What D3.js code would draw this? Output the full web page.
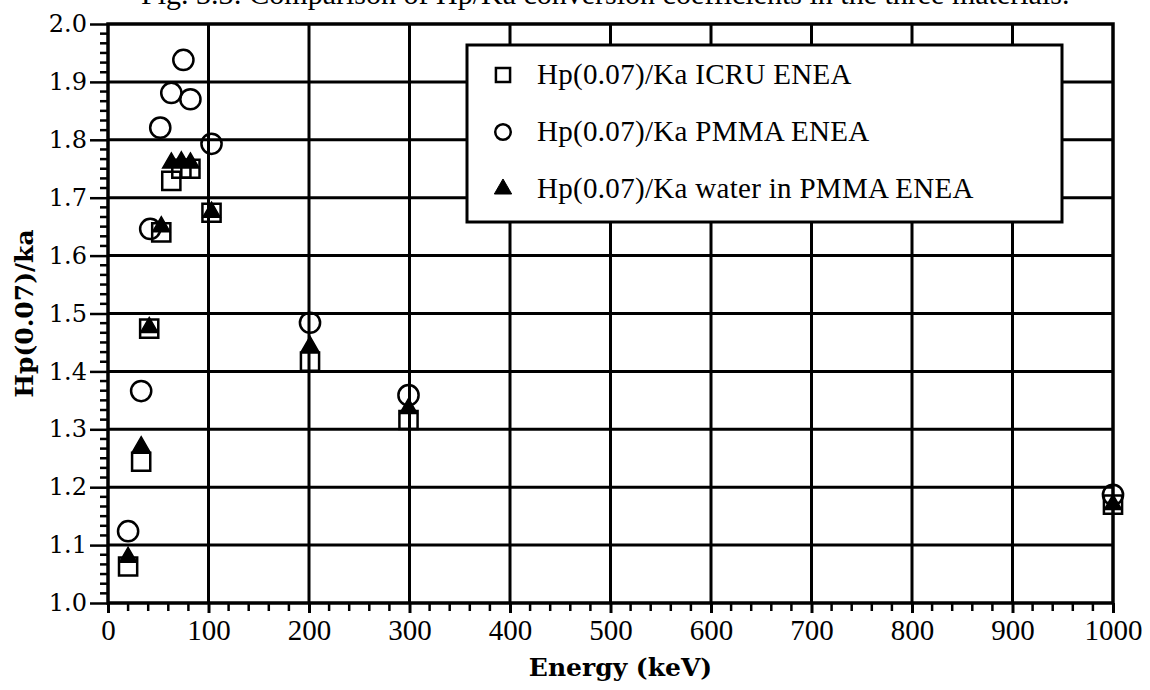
<!DOCTYPE html>
<html>
<head>
<meta charset="utf-8">
<script src="https://cdn.jsdelivr.net/npm/d3@7"></script>
<style>
  html, body { margin: 0; padding: 0; background: #fff; }
  svg { display: block; }
</style>
</head>
<body>
<svg id="chart" width="1150" height="690"></svg>
<script>
// Photon energies (keV) and Hp(0.07)/Ka conversion coefficients
const energyICRU  = [20, 33, 41, 53, 63, 73, 82, 103, 201, 299, 1000];
const valuesICRU  = [1.063, 1.244, 1.474, 1.640, 1.729, 1.750, 1.750, 1.674, 1.417, 1.316, 1.170];

const energyPMMA  = [20, 33, 42, 52, 63, 75, 82, 103, 201, 299, 1000];
const valuesPMMA  = [1.124, 1.366, 1.646, 1.821, 1.881, 1.938, 1.870, 1.793, 1.484, 1.359, 1.187];

const energyWater = [20, 33, 41, 53, 63, 73, 82, 103, 201, 299, 1000];
const valuesWater = [1.079, 1.270, 1.476, 1.650, 1.760, 1.762, 1.760, 1.675, 1.443, 1.336, 1.170];

const seriesNames = [
  "Hp(0.07)/Ka ICRU ENEA",
  "Hp(0.07)/Ka PMMA ENEA",
  "Hp(0.07)/Ka water in PMMA ENEA"
];

const xTicks = [0, 100, 200, 300, 400, 500, 600, 700, 800, 900, 1000];
const yTicks = [1.0, 1.1, 1.2, 1.3, 1.4, 1.5, 1.6, 1.7, 1.8, 1.9, 2.0];

const svg = d3.select("#chart");
const plot = { left: 108, right: 1113, top: 24, bottom: 603 };

const x = d3.scaleLinear().domain([0, 1000]).range([plot.left, plot.right]);
const y = d3.scaleLinear().domain([1.0, 2.0]).range([plot.bottom, plot.top]);

const ink = "#000";

// Caption line running off the top edge
svg.append("text")
  .attr("x", 141).attr("y", 4)
  .attr("font-family", "Liberation Serif, Times New Roman, serif")
  .attr("font-size", 30)
  .attr("fill", ink)
  .text("Fig. 3.3: Comparison of Hp/Ka conversion coefficients in the three materials.");

// Grid
const grid = svg.append("g").attr("stroke", ink).attr("stroke-width", 3);
grid.selectAll("line.v").data(xTicks.slice(1, -1)).join("line")
  .attr("x1", d => x(d)).attr("x2", d => x(d))
  .attr("y1", plot.top).attr("y2", plot.bottom);
grid.selectAll("line.h").data(yTicks.slice(1, -1)).join("line")
  .attr("x1", plot.left).attr("x2", plot.right)
  .attr("y1", d => y(d)).attr("y2", d => y(d));

// Bottom axis: major ticks every 100 keV, minor every 20 keV
const xAxis = d3.axisBottom(x).tickValues(xTicks).tickFormat(d3.format("d"))
  .tickSizeInner(10).tickSizeOuter(0).tickPadding(6);
const gx = svg.append("g").attr("transform", `translate(0,${plot.bottom})`).call(xAxis);
gx.select(".domain").remove();
gx.selectAll(".tick line").attr("stroke", ink).attr("stroke-width", 3);
gx.selectAll(".tick text")
  .attr("font-family", "Liberation Serif, Times New Roman, serif")
  .attr("font-size", 29).attr("fill", ink);

const xMinor = d3.range(0, 1001, 20).filter(d => d % 100 !== 0);
svg.append("g").attr("stroke", ink).attr("stroke-width", 2.5)
  .selectAll("line").data(xMinor).join("line")
  .attr("x1", d => x(d)).attr("x2", d => x(d))
  .attr("y1", plot.bottom).attr("y2", plot.bottom + 8);

// Left axis: major ticks every 0.1, five minor ticks between
const yAxis = d3.axisLeft(y).tickValues(yTicks).tickFormat(d3.format(".1f"))
  .tickSizeInner(18).tickSizeOuter(0).tickPadding(3);
const gy = svg.append("g").attr("transform", `translate(${plot.left},0)`).call(yAxis);
gy.select(".domain").remove();
gy.selectAll(".tick line").attr("stroke", ink).attr("stroke-width", 2.5);
gy.selectAll(".tick text")
  .attr("font-family", "DejaVu Serif, serif")
  .attr("font-size", 24).attr("fill", ink);

const yMinor = [];
for (let i = 0; i < 10; i++) for (let k = 1; k < 6; k++) yMinor.push(1 + i * 0.1 + k * 0.1 / 6);
svg.append("g").attr("stroke", ink).attr("stroke-width", 2.5)
  .selectAll("line").data(yMinor).join("line")
  .attr("x1", plot.left - 8).attr("x2", plot.left)
  .attr("y1", d => y(d)).attr("y2", d => y(d));

// Frame
svg.append("rect")
  .attr("x", plot.left).attr("y", plot.top)
  .attr("width", plot.right - plot.left).attr("height", plot.bottom - plot.top)
  .attr("fill", "none").attr("stroke", ink).attr("stroke-width", 3.5);

// Axis titles
svg.append("text")
  .attr("x", x(500) + 10).attr("y", 676)
  .attr("text-anchor", "middle")
  .attr("font-family", "DejaVu Serif, serif").attr("font-weight", "bold")
  .attr("font-size", 25).attr("fill", ink)
  .text("Energy (keV)");

svg.append("text")
  .attr("transform", `translate(33,${y(1.5)}) rotate(-90)`)
  .attr("text-anchor", "middle")
  .attr("font-family", "DejaVu Serif, serif").attr("font-weight", "bold")
  .attr("font-size", 25).attr("fill", ink)
  .text("Hp(0.07)/ka");

// Markers
const square = d3.symbol().type(d3.symbolSquare).size(330);
const circle = d3.symbol().type(d3.symbolCircle).size(320);
const triangle = d3.symbol().type(d3.symbolTriangle).size(130);

const toPts = (es, vs) => es.map((e, i) => ({ e, v: vs[i] }));

const marks = svg.append("g");
marks.append("g").selectAll("path").data(toPts(energyICRU, valuesICRU)).join("path")
  .attr("d", square)
  .attr("transform", d => `translate(${x(d.e)},${y(d.v)})`)
  .attr("fill", "none").attr("stroke", ink).attr("stroke-width", 2.5);
marks.append("g").selectAll("path").data(toPts(energyPMMA, valuesPMMA)).join("path")
  .attr("d", circle)
  .attr("transform", d => `translate(${x(d.e)},${y(d.v)})`)
  .attr("fill", "none").attr("stroke", ink).attr("stroke-width", 2.5);
marks.append("g").selectAll("path").data(toPts(energyWater, valuesWater)).join("path")
  .attr("d", triangle)
  .attr("transform", d => `translate(${x(d.e)},${y(d.v)})`)
  .attr("fill", ink).attr("stroke", ink).attr("stroke-width", 1.5);

// Legend
const legend = svg.append("g");
legend.append("rect")
  .attr("x", 467).attr("y", 45).attr("width", 595).attr("height", 177)
  .attr("fill", "#fff").attr("stroke", ink).attr("stroke-width", 3);

const legendSymbols = [
  { sym: d3.symbol().type(d3.symbolSquare).size(200), fill: "none", sw: 2.5 },
  { sym: d3.symbol().type(d3.symbolCircle).size(190), fill: "none", sw: 2.5 },
  { sym: d3.symbol().type(d3.symbolTriangle).size(130), fill: ink, sw: 1 }
];
const rowY = [75, 132, 189];
seriesNames.forEach((name, i) => {
  legend.append("path")
    .attr("d", legendSymbols[i].sym)
    .attr("transform", `translate(503,${rowY[i]})`)
    .attr("fill", legendSymbols[i].fill)
    .attr("stroke", ink).attr("stroke-width", legendSymbols[i].sw);
  legend.append("text")
    .attr("x", 537).attr("y", rowY[i] + 9)
    .attr("font-family", "Liberation Serif, Times New Roman, serif")
    .attr("font-size", 29).attr("letter-spacing", 0.3).attr("fill", ink)
    .text(name);
});
</script>
</body>
</html>
